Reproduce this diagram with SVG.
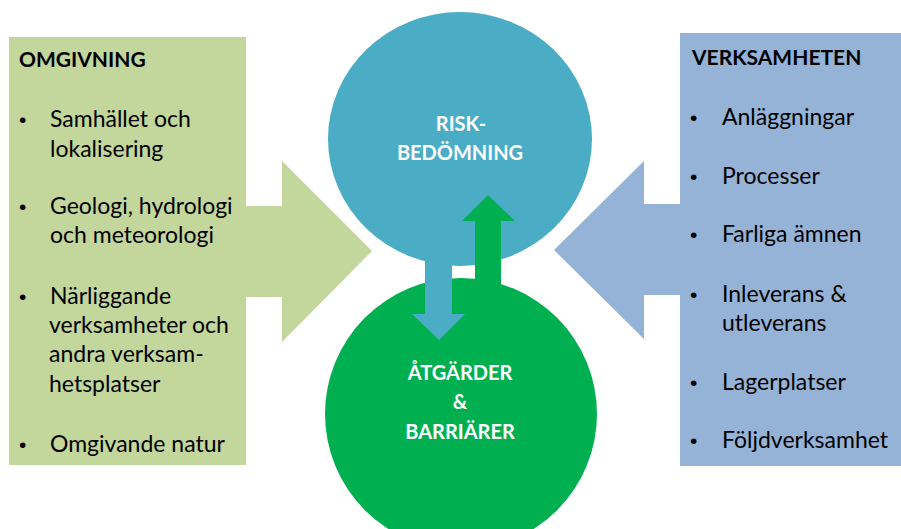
<svg xmlns="http://www.w3.org/2000/svg" width="901" height="529" viewBox="0 0 901 529">
<style>
.body{font-family:Lato,"Open Sans","Liberation Sans",sans-serif;font-size:23px;fill:#000}
.bul{font-family:"Liberation Sans",Arial,sans-serif;font-size:21px;fill:#000}
.head{font-family:Lato,"Open Sans","Liberation Sans",sans-serif;font-size:21px;font-weight:bold;fill:#000}
.ctr{font-family:Lato,"Open Sans","Liberation Sans",sans-serif;font-size:20px;font-weight:bold;fill:#fff;text-anchor:middle}
</style>
<rect width="901" height="529" fill="#fff"/>
<g id="omgivning">
<rect x="9" y="37" width="237" height="428" fill="#C3D69B"/>
<polygon points="245,206 282,206 282,161 372,251 282,342 282,297 245,297" fill="#C3D69B"/>
<text class="head" x="19" y="67">OMGIVNING</text>
<text class="bul" x="19" y="127">•</text><text class="body" x="50" y="127">Samhället och</text>
<text class="body" x="50" y="157">lokalisering</text>
<text class="bul" x="19" y="214">•</text><text class="body" x="50" y="214">Geologi, hydrologi</text>
<text class="body" x="50" y="243">och meteorologi</text>
<text class="bul" x="19" y="304">•</text><text class="body" x="50" y="304">Närliggande</text>
<text class="body" x="49" y="333">verksamheter och</text>
<text class="body" x="49" y="362">andra verksam-</text>
<text class="body" x="49" y="392">hetsplatser</text>
<text class="bul" x="19" y="452">•</text><text class="body" x="50" y="452">Omgivande natur</text>
</g>
<g id="verksamheten">
<rect x="680" y="33" width="221" height="433" fill="#95B3D7"/>
<polygon points="681,204 644,204 644,161 554,250 644,339 644,295 681,295" fill="#95B3D7"/>
<text class="head" x="692" y="65">VERKSAMHETEN</text>
<text class="bul" x="690" y="125">•</text><text class="body" x="722" y="125">Anläggningar</text>
<text class="bul" x="690" y="184">•</text><text class="body" x="722" y="184">Processer</text>
<text class="bul" x="690" y="242">•</text><text class="body" x="722" y="242">Farliga ämnen</text>
<text class="bul" x="690" y="302">•</text><text class="body" x="722" y="302">Inleverans &amp;</text>
<text class="body" x="722" y="331">utleverans</text>
<text class="bul" x="690" y="390">•</text><text class="body" x="722" y="390">Lagerplatser</text>
<text class="bul" x="690" y="448">•</text><text class="body" x="722" y="448">Följdverksamhet</text>
</g>
<g id="riskbedomning">
<ellipse cx="460" cy="139" rx="132" ry="127" fill="#4BACC6"/>
</g>
<g id="atgarder">
<circle cx="461" cy="414" r="136" fill="#00B050"/>
</g>
<g id="connectors">
<polygon points="425,240 452,240 452,314 465,314 439,340 412,314 425,314" fill="#4BACC6"/>
<polygon points="475,290 501,290 501,221 515,221 488,195 462,221 475,221" fill="#00B050"/>
</g>
<g id="labels">
<text class="ctr" x="461" y="131">RISK-</text>
<text class="ctr" x="460" y="160">BEDÖMNING</text>
<text class="ctr" x="460" y="380">ÅTGÄRDER</text>
<text class="ctr" x="460" y="409">&amp;</text>
<text class="ctr" x="460" y="439">BARRIÄRER</text>
</g>
</svg>
